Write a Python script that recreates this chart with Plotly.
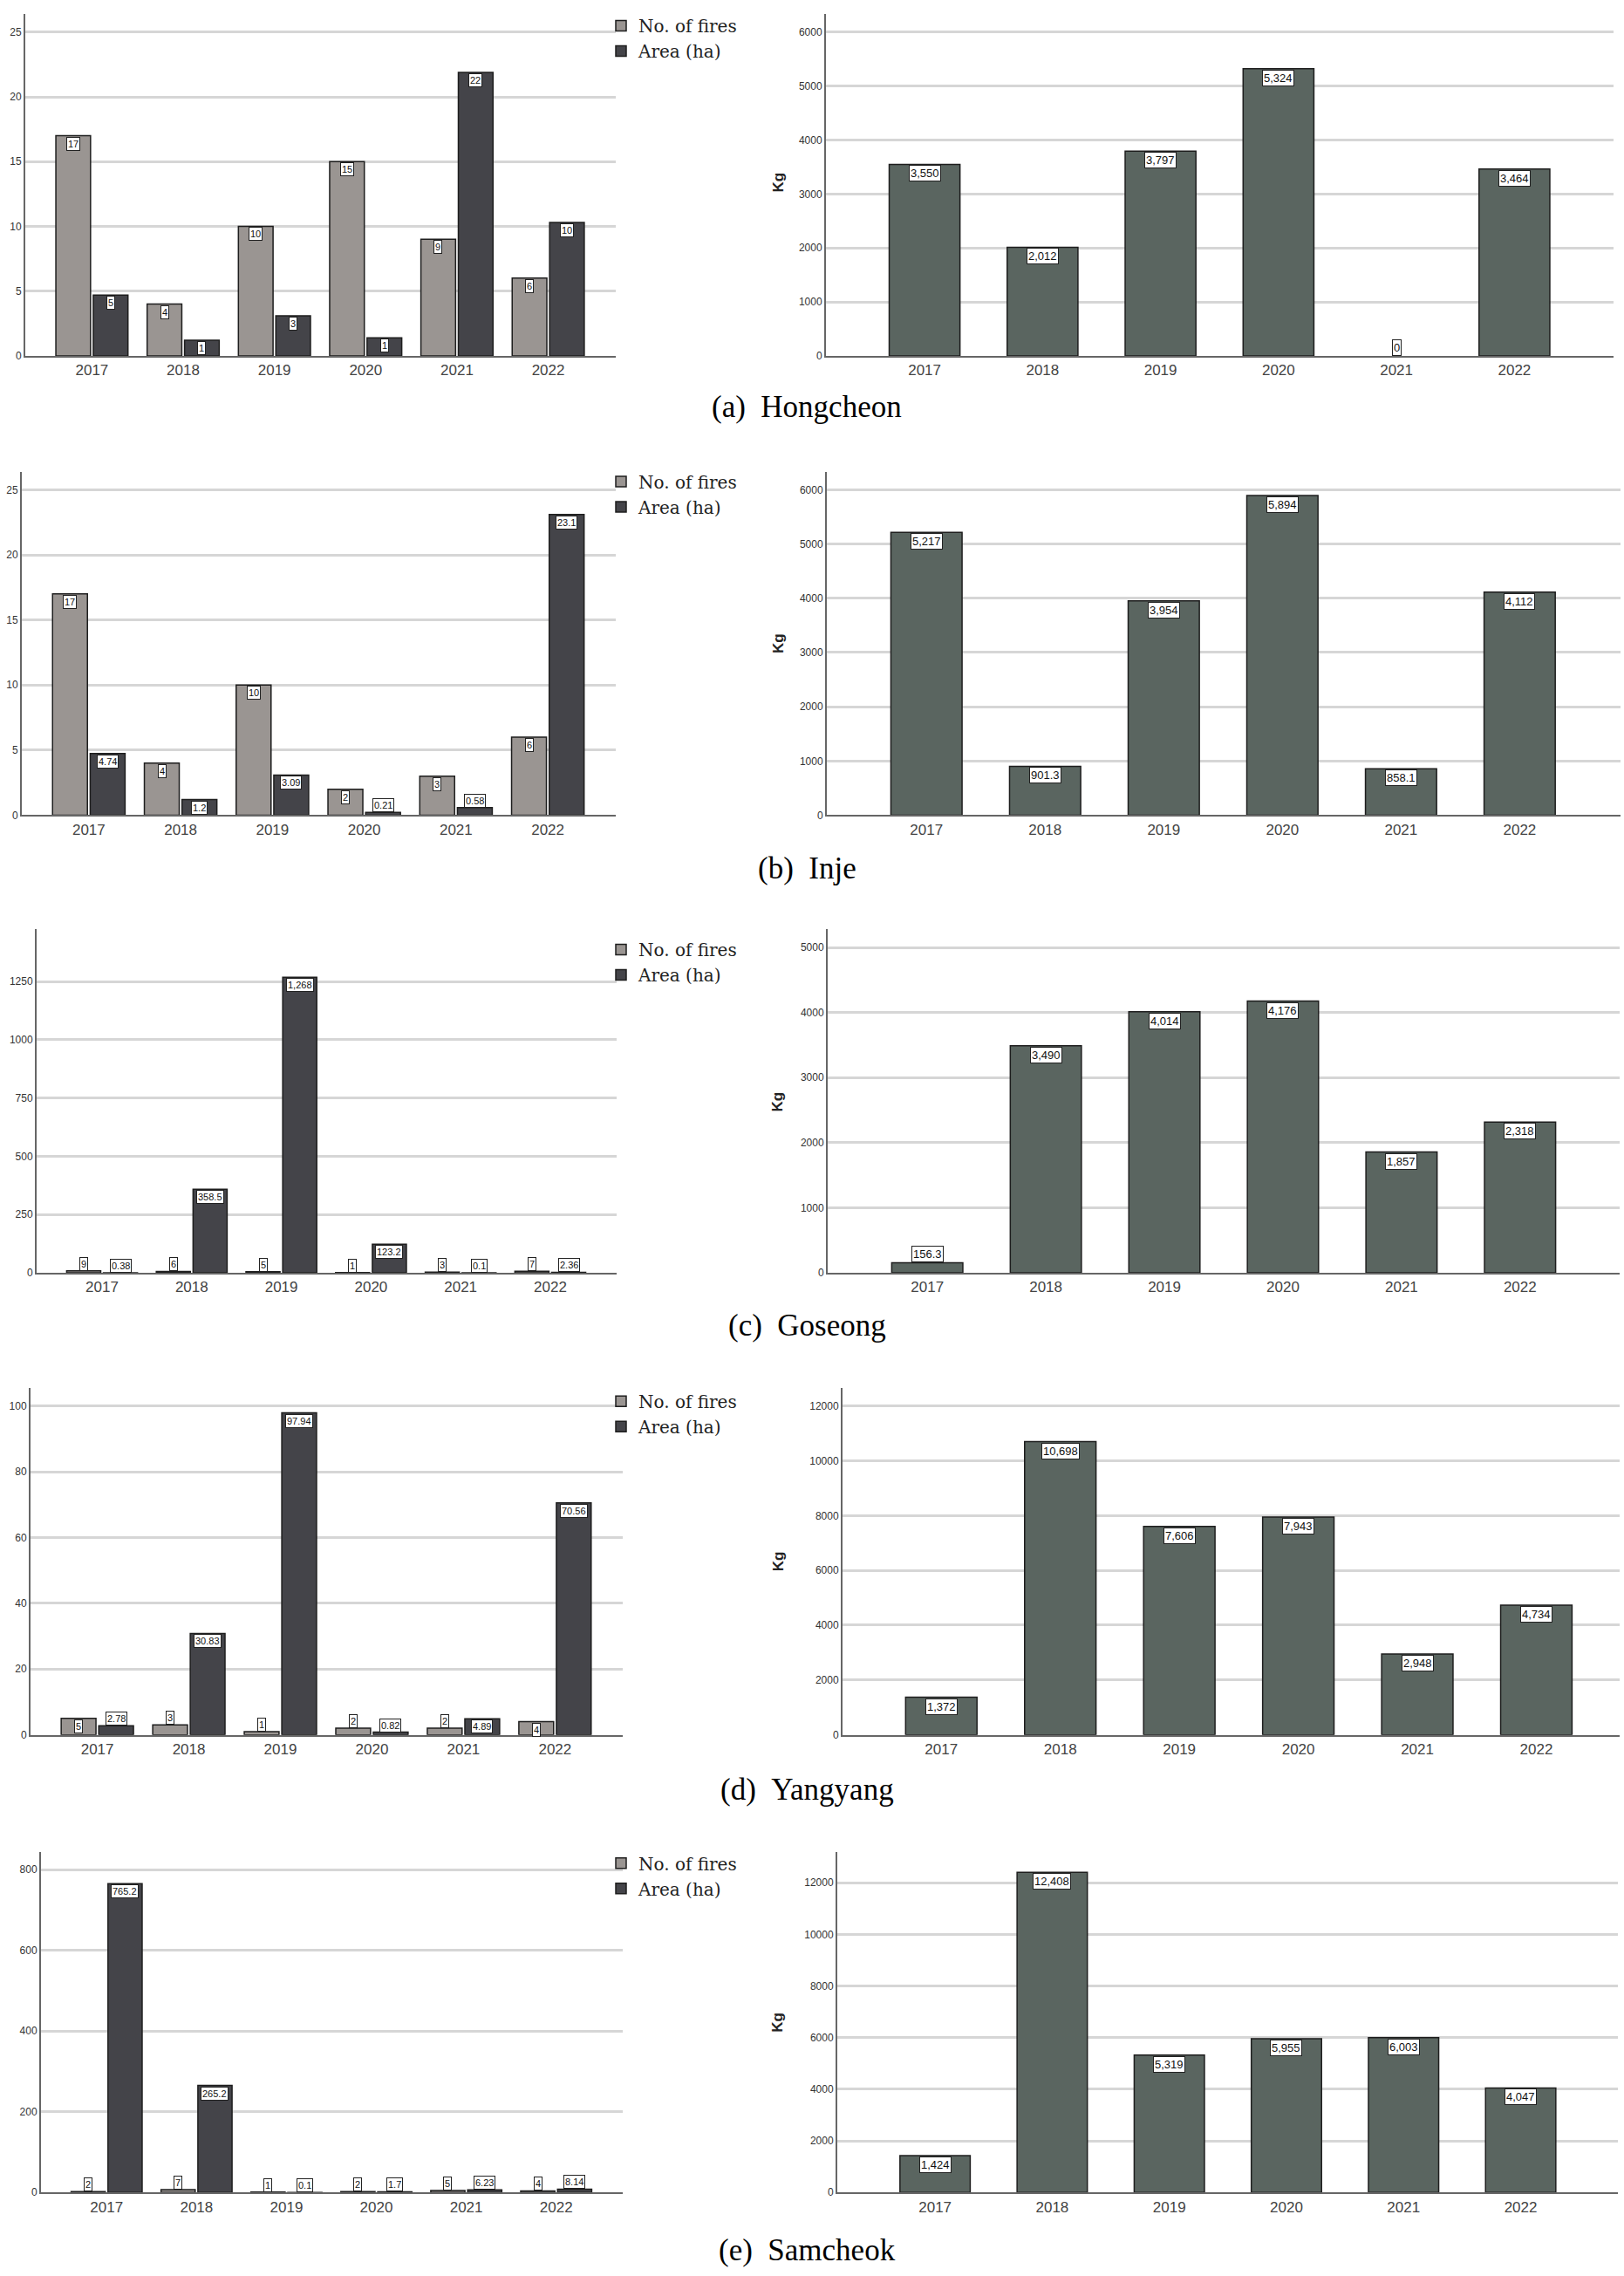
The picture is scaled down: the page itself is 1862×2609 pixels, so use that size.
import plotly.graph_objects as go

# ---------------- data ----------------
years = ["2017", "2018", "2019", "2020", "2021", "2022"]
regions = ["Hongcheon", "Inje", "Goseong", "Yangyang", "Samcheok"]
letters = ["(a)", "(b)", "(c)", "(d)", "(e)"]
series_names = ["No. of fires", "Area (ha)"]

hongcheon_fires = [17, 4, 10, 15, 9, 6]
hongcheon_area = [4.7, 1.2, 3.1, 1.4, 21.9, 10.3]
hongcheon_area_labels = ["5", "1", "3", "1", "22", "10"]
hongcheon_kg = [3550, 2012, 3797, 5324, 0, 3464]

inje_fires = [17, 4, 10, 2, 3, 6]
inje_area = [4.74, 1.2, 3.09, 0.21, 0.58, 23.1]
inje_kg = [5217, 901.3, 3954, 5894, 858.1, 4112]

goseong_fires = [9, 6, 5, 1, 3, 7]
goseong_area = [0.38, 358.5, 1268, 123.2, 0.1, 2.36]
goseong_kg = [156.3, 3490, 4014, 4176, 1857, 2318]

yangyang_fires = [5, 3, 1, 2, 2, 4]
yangyang_area = [2.78, 30.83, 97.94, 0.82, 4.89, 70.56]
yangyang_kg = [1372, 10698, 7606, 7943, 2948, 4734]

samcheok_fires = [2, 7, 1, 2, 5, 4]
samcheok_area = [765.2, 265.2, 0.1, 1.7, 6.23, 8.14]
samcheok_kg = [1424, 12408, 5319, 5955, 6003, 4047]

fires_data = [hongcheon_fires, inje_fires, goseong_fires, yangyang_fires, samcheok_fires]
area_data = [hongcheon_area, inje_area, goseong_area, yangyang_area, samcheok_area]
kg_data = [hongcheon_kg, inje_kg, goseong_kg, yangyang_kg, samcheok_kg]
area_label_override = {0: hongcheon_area_labels}

left_dtick = [5, 5, 250, 20, 200]
right_dtick = [1000, 1000, 1000, 2000, 2000]

# ---------------- layout (pixels) ----------------
W, H = 1862, 2609
panels = [
    dict(L=(29, 706), R=(947, 1850), top=16, base=409, lmax=26.41, rmax=6339, rr=(-0.836, 5.84),
         leg=28, cap=468, kg=210),
    dict(L=(25, 706), R=(948, 1858), top=542, base=937, lmax=26.4, rmax=6337, rr=(-0.84, 5.85),
         leg=552, cap=998, kg=740),
    dict(L=(42, 707), R=(949, 1857), top=1068, base=1463, lmax=1474, rmax=5281, rr=(-0.84, 5.84),
         leg=1090, cap=1524, kg=1267),
    dict(L=(35, 714), R=(966, 1857), top=1595, base=1994, lmax=105.6, rmax=12667, rr=(-0.83, 5.70),
         leg=1609, cap=2057, kg=1795),
    dict(L=(47, 714), R=(960, 1855), top=2129, base=2520, lmax=843, rmax=13180, rr=(-0.835, 5.83),
         leg=2140, cap=2586, kg=2325),
]
left_range = (-0.73, 5.74)

C_FIRE = "#9a9592"
C_AREA = "#444449"
C_KG = "#5a6560"
C_EDGE = "#1e1e1e"
GRID = "#d6d6d6"
AXIS = "#666666"


def xp(px):
    return px / W


def yp(px):
    return 1 - px / H


def fmt(v):
    if float(v).is_integer():
        return f"{int(v):,}"
    return f"{v:,.2f}".rstrip("0").rstrip(".")


def edge_widths(vals):
    return [0 if v == 0 else 1.5 for v in vals]


fig = go.Figure()
annotations = []
layout = dict(
    width=W, height=H, margin=dict(l=0, r=0, t=0, b=0),
    paper_bgcolor="white", plot_bgcolor="white",
    barmode="overlay", showlegend=True,
    font=dict(family="Liberation Sans", color="#333333"),
)

FIRE_OFF, AREA_OFF, GW = -0.395, 0.015, 0.38


def add_label(xref, yref, xpos, val, text, ymax, plot_h, size):
    hpx = val / ymax * plot_h
    inside = hpx >= 14
    annotations.append(dict(
        xref=xref, yref=yref, x=xpos, y=val, text=text, showarrow=False,
        yanchor="top" if inside else "bottom", yshift=-1 if inside else 0,
        xanchor="center",
        font=dict(family="Liberation Sans", size=size, color="#111111"),
        bgcolor="white", bordercolor="#222222", borderwidth=1, borderpad=1,
    ))


for i, p in enumerate(panels):
    li, ri = 2 * i + 1, 2 * i + 2
    lx = "x" if li == 1 else f"x{li}"
    ly = "y" if li == 1 else f"y{li}"
    rx, ry = f"x{ri}", f"y{ri}"
    lxa = "xaxis" if li == 1 else f"xaxis{li}"
    lya = "yaxis" if li == 1 else f"yaxis{li}"
    rxa, rya = f"xaxis{ri}", f"yaxis{ri}"
    leg = "legend" if i == 0 else f"legend{i + 1}"
    plot_h = p["base"] - p["top"]
    ydom = [yp(p["base"]), yp(p["top"])]

    fig.add_trace(go.Bar(x=years, y=fires_data[i], name=series_names[0], xaxis=lx, yaxis=ly,
                         width=GW, offset=FIRE_OFF, legend=leg,
                         marker=dict(color=C_FIRE, line=dict(color=C_EDGE, width=edge_widths(fires_data[i])))))
    fig.add_trace(go.Bar(x=years, y=area_data[i], name=series_names[1], xaxis=lx, yaxis=ly,
                         width=GW, offset=AREA_OFF, legend=leg,
                         marker=dict(color=C_AREA, line=dict(color=C_EDGE, width=edge_widths(area_data[i])))))
    fig.add_trace(go.Bar(x=years, y=kg_data[i], name="Kg", xaxis=rx, yaxis=ry,
                         width=0.6, offset=-0.3, showlegend=False,
                         marker=dict(color=C_KG, line=dict(color=C_EDGE, width=edge_widths(kg_data[i])))))

    tickfont_y = dict(family="Liberation Sans", size=12, color="#333333")
    tickfont_x = dict(family="Liberation Sans", size=17, color="#444444")
    common_x = dict(type="category", showgrid=False, showline=True, linecolor=AXIS, linewidth=2,
                    ticks="", tickfont=tickfont_x, zeroline=False, fixedrange=True)
    common_y = dict(showgrid=True, gridcolor=GRID, gridwidth=2.5, showline=True, linecolor=AXIS,
                    linewidth=2, ticks="", tickfont=tickfont_y, zeroline=False, tick0=0,
                    tickformat="d")

    layout[lxa] = dict(common_x, domain=[xp(p["L"][0]), xp(p["L"][1])], range=list(left_range), anchor=ly)
    layout[lya] = dict(common_y, domain=ydom, range=[0, p["lmax"]], dtick=left_dtick[i], anchor=lx)
    layout[rxa] = dict(common_x, domain=[xp(p["R"][0]), xp(p["R"][1])], range=list(p["rr"]), anchor=ry)
    layout[rya] = dict(common_y, domain=ydom, range=[0, p["rmax"]], dtick=right_dtick[i], anchor=rx)

    layout[leg] = dict(x=xp(692), y=yp(p["leg"] - 18), xanchor="left", yanchor="top",
                       bgcolor="rgba(0,0,0,0)", borderwidth=0, tracegroupgap=0,
                       font=dict(family="DejaVu Serif", size=20, color="#222222"))

    labels_area = area_label_override.get(i, [fmt(v) for v in area_data[i]])
    for j in range(len(years)):
        add_label(lx, ly, j + FIRE_OFF + GW / 2, fires_data[i][j], fmt(fires_data[i][j]),
                  p["lmax"], plot_h, 11)
        add_label(lx, ly, j + AREA_OFF + GW / 2, area_data[i][j], labels_area[j],
                  p["lmax"], plot_h, 11)
        add_label(rx, ry, j, kg_data[i][j], fmt(kg_data[i][j]), p["rmax"], plot_h, 13)

    annotations.append(dict(xref="paper", yref="paper", x=xp(892), y=yp(p["kg"]), text="<b>Kg</b>",
                            textangle=-90, showarrow=False, xanchor="center", yanchor="middle",
                            font=dict(family="Liberation Sans", size=17, color="#222222")))
    annotations.append(dict(xref="paper", yref="paper", x=xp(925), y=yp(p["cap"]),
                            text=f"{letters[i]}\u00a0\u00a0{regions[i]}", showarrow=False,
                            xanchor="center", yanchor="middle",
                            font=dict(family="Liberation Serif", size=35, color="#000000")))

layout["annotations"] = annotations
fig.update_layout(**layout)
fig.write_html("out.html")
